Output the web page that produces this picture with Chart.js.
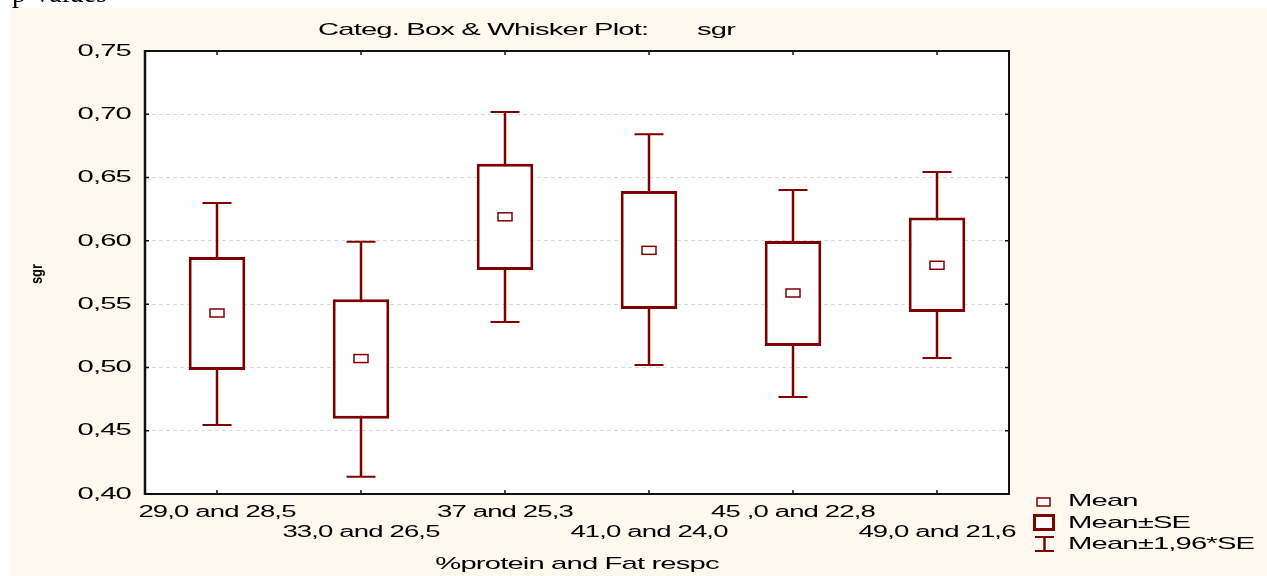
<!DOCTYPE html>
<html>
<head>
<meta charset="utf-8">
<script src="https://cdn.jsdelivr.net/npm/chart.js@4.4.1/dist/chart.umd.min.js"></script>
<style>
  html, body { margin: 0; padding: 0; background: #ffffff; }
  #wrap { position: relative; width: 1267px; height: 576px; }
</style>
</head>
<body>
<div id="wrap"><canvas id="c"></canvas></div>
<script>
// Diet groups: % protein and % fat
const categories = ['29,0 and 28,5', '33,0 and 26,5', '37 and 25,3', '41,0 and 24,0', '45 ,0 and 22,8', '49,0 and 21,6'];
// sgr per group
const means    = [0.543, 0.507, 0.619, 0.5925, 0.5588, 0.5807];
const seLow    = [0.498, 0.4595, 0.577, 0.5462, 0.5169, 0.5438];
const seHigh   = [0.5872, 0.5538, 0.661, 0.6394, 0.5999, 0.6184];
const ciLow    = [0.4545, 0.4137, 0.5359, 0.5019, 0.4766, 0.5074];
const ciHigh   = [0.630, 0.5993, 0.7019, 0.6843, 0.6402, 0.6544];
const yTicks   = [0.40, 0.45, 0.50, 0.55, 0.60, 0.65, 0.70, 0.75];
const yTickLabels = ['0,40', '0,45', '0,50', '0,55', '0,60', '0,65', '0,70', '0,75'];

const TITLE = 'Categ. Box & Whisker Plot:';
const TITLE_VAR = 'sgr';
const X_TITLE = '%protein and Fat respc';
const Y_TITLE = 'sgr';
const LEGEND = ['Mean', 'Mean\u00b1SE', 'Mean\u00b11,96*SE'];

const RED = '#800000';
const CREAM = '#fdf9ef';
const SX = 1.72;

// wide, tightly spaced sans text
function stext(ctx, txt, x, y, size, align, sx) {
  ctx.save();
  ctx.font = size + 'px "Liberation Sans", Arial, sans-serif';
  try { ctx.letterSpacing = '-0.5px'; } catch (e) {}
  const w = ctx.measureText(txt).width;
  ctx.translate(x, y);
  ctx.scale(sx, 1);
  let ox = 0;
  if (align === 'center') ox = -w / 2;
  else if (align === 'right') ox = -w;
  ctx.textAlign = 'left';
  ctx.textBaseline = 'middle';
  ctx.fillStyle = '#000';
  ctx.fillText(txt, ox, 0);
  ctx.restore();
}

const framePlugin = {
  id: 'frame',
  beforeDraw(chart) {
    const ctx = chart.ctx;
    const W = chart.width, H = chart.height;
    const a = chart.chartArea;
    ctx.save();
    ctx.fillStyle = '#ffffff';
    ctx.fillRect(0, 0, W, H);
    // caption line above the panel, mostly off the top edge
    ctx.fillStyle = '#000';
    ctx.font = '28px "Liberation Serif", serif';
    ctx.textAlign = 'left';
    ctx.textBaseline = 'alphabetic';
    ctx.fillText('p-values', 12, 2);
    ctx.fillStyle = CREAM;
    ctx.fillRect(10, 8, W - 10, H - 8);
    ctx.fillStyle = '#ffffff';
    ctx.fillRect(a.left, a.top, a.right - a.left, a.bottom - a.top);
    ctx.restore();
  },
  beforeDatasetsDraw(chart) {
    // whiskers: Mean ± 1,96*SE
    const ctx = chart.ctx;
    const xs = chart.scales.x, ys = chart.scales.y;
    ctx.save();
    ctx.strokeStyle = RED;
    for (let i = 0; i < categories.length; i++) {
      const x = xs.getPixelForValue(i);
      const yl = ys.getPixelForValue(ciLow[i]);
      const yh = ys.getPixelForValue(ciHigh[i]);
      ctx.lineWidth = 2.5;
      ctx.beginPath();
      ctx.moveTo(x, yl); ctx.lineTo(x, yh);
      ctx.stroke();
      ctx.lineWidth = 2;
      ctx.beginPath();
      ctx.moveTo(x - 14.5, yh); ctx.lineTo(x + 14.5, yh);
      ctx.moveTo(x - 14.5, yl); ctx.lineTo(x + 14.5, yl);
      ctx.stroke();
    }
    ctx.restore();
  },
  afterDatasetsDraw(chart) {
    const ctx = chart.ctx;
    const xs = chart.scales.x, ys = chart.scales.y;
    const a = chart.chartArea;
    ctx.save();
    // mean markers
    ctx.strokeStyle = RED;
    ctx.fillStyle = '#fff';
    ctx.lineWidth = 1.5;
    for (let i = 0; i < categories.length; i++) {
      const x = xs.getPixelForValue(i);
      const y = ys.getPixelForValue(means[i]);
      ctx.fillRect(x - 7, y - 4, 14, 8);
      ctx.strokeRect(x - 7, y - 4, 14, 8);
    }
    // frame
    ctx.strokeStyle = '#111';
    ctx.lineWidth = 2;
    ctx.strokeRect(a.left, a.top, a.right - a.left, a.bottom - a.top);
    ctx.lineWidth = 2.5;
    ctx.beginPath();
    ctx.moveTo(a.left, a.top - 1); ctx.lineTo(a.left, a.bottom + 1);
    ctx.stroke();
    // tick marks
    ctx.lineWidth = 1.5;
    ctx.beginPath();
    yTicks.forEach(v => {
      const y = ys.getPixelForValue(v);
      ctx.moveTo(a.left, y); ctx.lineTo(a.left + 4, y);
      ctx.moveTo(a.right, y); ctx.lineTo(a.right - 4, y);
    });
    for (let i = 0; i < categories.length; i++) {
      const x = xs.getPixelForValue(i);
      ctx.moveTo(x, a.top); ctx.lineTo(x, a.top + 4);
      ctx.moveTo(x, a.bottom); ctx.lineTo(x, a.bottom - 4);
    }
    ctx.stroke();
    ctx.restore();

    // texts
    stext(ctx, TITLE, 318, 30, 17, 'left', SX);
    stext(ctx, TITLE_VAR, 697, 30, 17, 'left', SX);
    yTicks.forEach((v, k) => {
      stext(ctx, yTickLabels[k], 131, ys.getPixelForValue(v), 17, 'right', SX);
    });
    for (let i = 0; i < categories.length; i++) {
      const x = xs.getPixelForValue(i);
      stext(ctx, categories[i], x, i % 2 === 0 ? 513 : 533, 16, 'center', SX);
    }
    stext(ctx, X_TITLE, 577, 564, 17, 'center', SX);
    // rotated y title
    ctx.save();
    ctx.translate(38, 274);
    ctx.rotate(-Math.PI / 2);
    ctx.font = 'bold 18px "Liberation Sans", Arial, sans-serif';
    ctx.textAlign = 'center';
    ctx.textBaseline = 'middle';
    ctx.fillStyle = '#000';
    ctx.scale(0.72, 0.9);
    ctx.fillText(Y_TITLE, 0, 0);
    ctx.restore();

    // legend
    ctx.save();
    ctx.strokeStyle = RED;
    ctx.fillStyle = '#fff';
    ctx.lineWidth = 1.5;
    ctx.fillRect(1037, 498, 13, 8);
    ctx.strokeRect(1037, 498, 13, 8);
    ctx.lineWidth = 3;
    ctx.fillRect(1034.5, 515.5, 19, 14);
    ctx.strokeRect(1034.5, 515.5, 19, 14);
    ctx.lineWidth = 2;
    ctx.beginPath();
    ctx.moveTo(1035, 537); ctx.lineTo(1054, 537);
    ctx.moveTo(1035, 551); ctx.lineTo(1054, 551);
    ctx.stroke();
    ctx.lineWidth = 2.5;
    ctx.beginPath();
    ctx.moveTo(1044.5, 537); ctx.lineTo(1044.5, 551);
    ctx.stroke();
    ctx.restore();
    stext(ctx, LEGEND[0], 1068, 501, 17, 'left', SX);
    stext(ctx, LEGEND[1], 1068, 523, 17, 'left', SX);
    stext(ctx, LEGEND[2], 1068, 544, 17, 'left', SX);
  }
};

new Chart(document.getElementById('c'), {
  type: 'bar',
  data: {
    labels: categories,
    datasets: [{
      label: LEGEND[1],
      data: seLow.map((lo, i) => [lo, seHigh[i]]),
      backgroundColor: '#ffffff',
      borderColor: RED,
      borderWidth: 3,
      borderSkipped: false,
      barPercentage: 0.393,
      categoryPercentage: 1.0
    }]
  },
  options: {
    responsive: true,
    maintainAspectRatio: false,
    animation: false,
    events: [],
    layout: { padding: { left: 145, top: 51, right: 258, bottom: 82 } },
    plugins: { legend: { display: false }, title: { display: false }, tooltip: { enabled: false } },
    scales: {
      x: {
        type: 'category',
        offset: true,
        grid: { display: false, drawTicks: false },
        border: { display: false },
        ticks: { display: false }
      },
      y: {
        min: 0.40,
        max: 0.75,
        afterBuildTicks(scale) { scale.ticks = yTicks.map(v => ({ value: v })); },
        grid: { color: '#d9d9d9', lineWidth: 1, drawTicks: false },
        border: { display: false, dash: [4, 3] },
        ticks: { display: false }
      }
    }
  },
  plugins: [framePlugin]
});
</script>
</body>
</html>
